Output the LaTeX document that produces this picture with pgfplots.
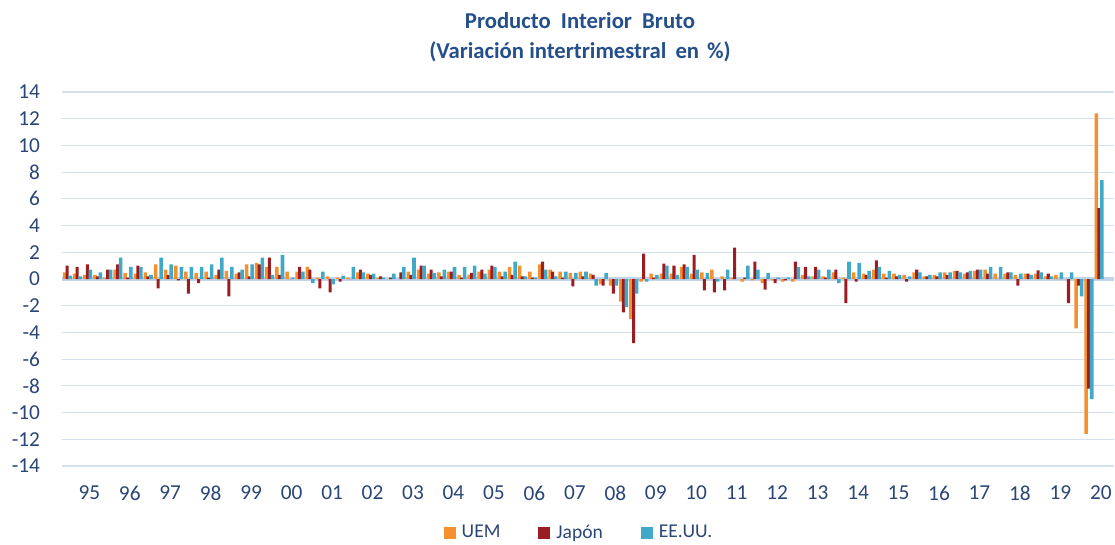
\documentclass[border=0pt]{standalone}
\usepackage{fontspec}
\setmainfont{Carlito}
\usepackage{pgfplots}
\pgfplotsset{compat=1.18}

\definecolor{cUEM}{HTML}{F5902E}
\definecolor{cJap}{HTML}{9A1D22}
\definecolor{cUS}{HTML}{40A9C8}
\definecolor{navy}{HTML}{2A4677}
\definecolor{titleblue}{HTML}{244F8A}
\definecolor{gridc}{HTML}{D5E0EE}
\definecolor{zeroc}{HTML}{C3D4EA}

\begin{document}
\begin{tikzpicture}
\begin{axis}[
  scale only axis, width=526bp, height=187bp,
  xmin=-0.5, xmax=103.5, ymin=-14, ymax=14,
  ytick={-14,-12,-10,-8,-6,-4,-2,0,2,4,6,8,10,12,14},
  xtick={2.2,6.2,10.2,14.2,18.2,22.2,26.2,30.2,34.2,38.2,42.2,46.2,50.2,54.2,58.2,62.2,66.2,70.2,74.2,78.2,82.2,86.2,90.2,94.2,98.2,102.2},
  xticklabels={95,96,97,98,99,00,01,02,03,04,05,06,07,08,09,10,11,12,13,14,15,16,17,18,19,20},
  major tick length=0pt,
  axis line style={draw=none},
  ymajorgrids, major grid style={draw=gridc, line width=0.6bp},
  extra y ticks={0}, extra y tick labels={},
  extra y tick style={ymajorgrids=true, major grid style={draw=zeroc, line width=2.4bp}},
  ybar,
  tick label style={font=\fontsize{10.7}{12}\selectfont, text=navy},
  /pgf/number format/assume math mode=true,
  yticklabel style={xshift=-7.5bp},
  xticklabel style={yshift=-6.5bp},
  title={Producto\hspace{0.45em}Interior\hspace{0.45em}Bruto\\(Variación intertrimestral\hspace{0.4em}en\hspace{0.35em}\%)},
  title style={at={(0.5,1)}, anchor=south, yshift=5.5bp, xshift=-4bp, align=center,
    font=\bfseries\fontsize{11.4}{15}\selectfont, text=titleblue},
  legend style={at={(0.5,0)}, anchor=center, yshift=-33.5bp, xshift=-4bp, draw=none, fill=none,
    font=\fontsize{9.8}{12}\selectfont, text=navy, legend columns=3,
    /tikz/every even column/.append style={column sep=17bp},
    /tikz/every odd column/.append style={column sep=1bp}},
  legend image code/.code={\path[#1] (0bp,-2.8bp) rectangle (6bp,3.2bp);},
]
\addplot[fill=cUEM, draw=none, bar width=0.35, bar shift=-0.25] coordinates {
(0,0.5) (1,0.4) (2,0.3) (3,0.3)
(4,0.1) (5,0.7) (6,0.45) (7,0.4)
(8,0.5) (9,1.1) (10,0.7) (11,1.0)
(12,0.55) (13,0.45) (14,0.55) (15,0.3)
(16,0.6) (17,0.4) (18,1.1) (19,1.2)
(20,0.9) (21,0.9) (22,0.55) (23,0.55)
(24,0.9) (25,0.1) (26,0.2) (27,0.1)
(28,0.1) (29,0.5) (30,0.4) (31,0.1)
(32,0.0) (33,0.0) (34,0.55) (35,0.7)
(36,0.4) (37,0.5) (38,0.55) (39,0.3)
(40,0.3) (41,0.55) (42,0.7) (43,0.55)
(44,0.9) (45,1.0) (46,0.55) (47,1.1)
(48,0.7) (49,0.55) (50,0.45) (51,0.55)
(52,0.4) (53,-0.4) (54,-0.5) (55,-1.7)
(56,-3.0) (57,-0.2) (58,0.4) (59,0.4)
(60,0.4) (61,0.9) (62,0.4) (63,0.5)
(64,0.7) (65,0.2) (66,0.1) (67,-0.2)
(68,-0.1) (69,-0.3) (70,-0.1) (71,-0.2)
(72,-0.2) (73,0.3) (74,0.2) (75,0.2)
(76,0.5) (77,0.1) (78,0.5) (79,0.4)
(80,0.7) (81,0.4) (82,0.4) (83,0.3)
(84,0.5) (85,0.2) (86,0.3) (87,0.5)
(88,0.6) (89,0.4) (90,0.6) (91,0.7)
(92,0.4) (93,0.4) (94,0.3) (95,0.4)
(96,0.4) (97,0.2) (98,0.3) (99,0.0)
(100,-3.7) (101,-11.6) (102,12.4)
};
\addlegendentry{UEM}
\addplot[fill=cJap, draw=none, bar width=0.3, bar shift=0] coordinates {
(0,1.0) (1,0.9) (2,1.1) (3,0.2)
(4,0.7) (5,1.1) (6,0.1) (7,1.0)
(8,0.2) (9,-0.7) (10,0.3) (11,-0.1)
(12,-1.1) (13,-0.3) (14,0.1) (15,0.7)
(16,-1.3) (17,0.5) (18,0.2) (19,1.1)
(20,1.6) (21,0.3) (22,0.0) (23,0.9)
(24,0.7) (25,-0.7) (26,-1.0) (27,-0.2)
(28,0.0) (29,0.7) (30,0.3) (31,0.2)
(32,0.1) (33,0.5) (34,0.3) (35,1.0)
(36,0.7) (37,0.2) (38,0.55) (39,0.1)
(40,0.45) (41,0.7) (42,1.0) (43,0.2)
(44,0.3) (45,0.2) (46,0.1) (47,1.3)
(48,0.55) (49,0.1) (50,-0.55) (51,0.2)
(52,0.3) (53,-0.5) (54,-1.1) (55,-2.5)
(56,-4.8) (57,1.9) (58,0.1) (59,1.15)
(60,1.0) (61,1.1) (62,1.8) (63,-0.85)
(64,-1.0) (65,-0.85) (66,2.35) (67,0.1)
(68,1.3) (69,-0.8) (70,-0.3) (71,-0.1)
(72,1.3) (73,0.9) (74,0.9) (75,0.1)
(76,0.7) (77,-1.8) (78,-0.2) (79,0.3)
(80,1.4) (81,0.1) (82,0.2) (83,-0.2)
(84,0.7) (85,0.2) (86,0.2) (87,0.3)
(88,0.6) (89,0.5) (90,0.7) (91,0.4)
(92,0.0) (93,0.5) (94,-0.5) (95,0.4)
(96,0.65) (97,0.4) (98,0.0) (99,-1.8)
(100,-0.5) (101,-8.2) (102,5.3)
};
\addlegendentry{Japón}
\addplot[fill=cUS, draw=none, bar width=0.35, bar shift=0.3] coordinates {
(0,0.25) (1,0.2) (2,0.7) (3,0.5)
(4,0.7) (5,1.6) (6,0.9) (7,0.9)
(8,0.3) (9,1.6) (10,1.1) (11,0.9)
(12,0.9) (13,0.9) (14,1.1) (15,1.6)
(16,0.9) (17,0.7) (18,1.1) (19,1.6)
(20,0.3) (21,1.8) (22,0.1) (23,0.55)
(24,-0.3) (25,0.55) (26,-0.4) (27,0.25)
(28,0.9) (29,0.5) (30,0.4) (31,0.1)
(32,0.4) (33,0.9) (34,1.6) (35,1.0)
(36,0.45) (37,0.7) (38,0.9) (39,0.9)
(40,1.0) (41,0.4) (42,0.9) (43,0.55)
(44,1.3) (45,0.2) (46,0.1) (47,0.7)
(48,0.2) (49,0.55) (50,0.45) (51,0.55)
(52,-0.5) (53,0.45) (54,-0.5) (55,-2.1)
(56,-1.1) (57,-0.2) (58,0.3) (59,1.0)
(60,0.3) (61,0.9) (62,0.7) (63,0.45)
(64,-0.2) (65,0.7) (66,0.0) (67,1.0)
(68,0.7) (69,0.45) (70,0.1) (71,0.1)
(72,0.9) (73,0.2) (74,0.7) (75,0.7)
(76,-0.3) (77,1.3) (78,1.2) (79,0.6)
(80,0.9) (81,0.6) (82,0.3) (83,0.2)
(84,0.5) (85,0.3) (86,0.5) (87,0.5)
(88,0.5) (89,0.6) (90,0.7) (91,0.9)
(92,0.9) (93,0.5) (94,0.4) (95,0.3)
(96,0.5) (97,0.2) (98,0.5) (99,0.5)
(100,-1.3) (101,-9.0) (102,7.4)
};
\addlegendentry{EE.UU.}
\end{axis}
\pgfresetboundingbox
\path[use as bounding box] ([xshift=-31bp,yshift=-39.5bp]current axis.south west) rectangle ([xshift=0.5bp,yshift=46bp]current axis.north east);
\end{tikzpicture}
\end{document}
